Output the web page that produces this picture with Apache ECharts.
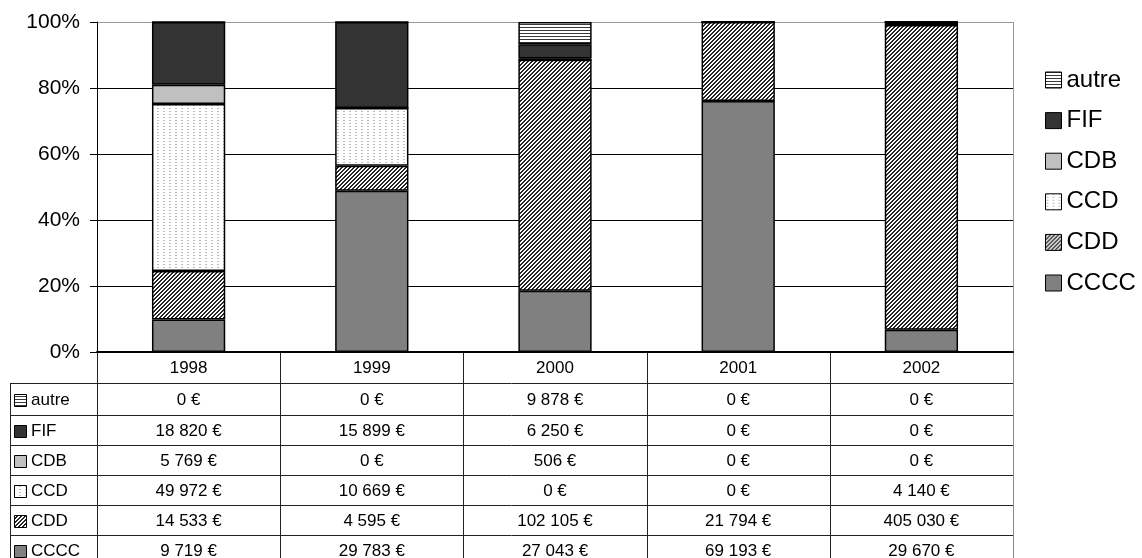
<!DOCTYPE html>
<html>
<head>
<meta charset="utf-8">
<script src="https://cdn.jsdelivr.net/npm/echarts@6/dist/echarts.min.js"></script>
<style>
  html, body { margin: 0; padding: 0; background: #fff; }
  #chart { width: 1142px; height: 558px; }
</style>
</head>
<body>
<div id="chart"></div>
<script>
// Years (categories) and amounts in euros per funding source
const years = ['1998', '1999', '2000', '2001', '2002'];
const cccc  = [9719, 29783, 27043, 69193, 29670];
const cdd   = [14533, 4595, 102105, 21794, 405030];
const ccd   = [49972, 10669, 0, 0, 4140];
const cdb   = [5769, 0, 506, 0, 0];
const fif   = [18820, 15899, 6250, 0, 0];
const autre = [0, 0, 9878, 0, 0];
const yTicks = [0, 20, 40, 60, 80, 100];

// Fill patterns drawn on small canvases
function makePattern(w, h, draw) {
  const c = document.createElement('canvas');
  c.width = w; c.height = h;
  const g = c.getContext('2d');
  g.fillStyle = '#ffffff';
  g.fillRect(0, 0, w, h);
  draw(g, w, h);
  return { image: c, repeat: 'repeat' };
}
const fills = {
  CCCC: '#808080',
  CDD: makePattern(4, 4, (g) => {
    g.fillStyle = '#262626';
    for (let x = 0; x < 4; x++) for (let y = 0; y < 4; y++) {
      if ((x + y) % 4 < 2) g.fillRect(x, y, 1, 1);
    }
  }),
  CCD: makePattern(6, 3, (g) => {
    g.fillStyle = '#bdbdbd';
    g.fillRect(1, 0, 2, 1);
  }),
  CDB: '#c0c0c0',
  FIF: '#333333',
  autre: makePattern(4, 3, (g) => {
    g.fillStyle = '#3a3a3a';
    g.fillRect(0, 0, 4, 1);
  })
};

// Stack order, bottom to top
const stack = [
  { name: 'CCCC', data: cccc },
  { name: 'CDD', data: cdd },
  { name: 'CCD', data: ccd },
  { name: 'CDB', data: cdb },
  { name: 'FIF', data: fif },
  { name: 'autre', data: autre }
];
// Table / legend order, top to bottom
const tableOrder = ['autre', 'FIF', 'CDB', 'CCD', 'CDD', 'CCCC'];

const totals = years.map((_, i) => stack.reduce((s, r) => s + r.data[i], 0));

function euro(v) {
  const s = String(v).replace(/\B(?=(\d{3})+(?!\d))/g, '\u00a0');
  return s + ' \u20ac';
}

const FONT = '"Liberation Sans", Arial, sans-serif';
const GRID = { left: 97, right: 129, top: 22, bottom: 206 };
const PLOT_RIGHT = 1142 - GRID.right;
const PLOT_BOTTOM = 558 - GRID.bottom;
const TABLE_LEFT = 10;
const rowLines = [383, 415, 445, 475, 505, 535, 565];

const chart = echarts.init(document.getElementById('chart'), null, { renderer: 'canvas' });

const option = {
  animation: false,
  backgroundColor: '#ffffff',
  textStyle: { fontFamily: FONT },
  grid: GRID,
  legend: {
    orient: 'vertical',
    left: 1040,
    top: 63,
    itemWidth: 16,
    itemHeight: 16,
    itemGap: 16.6,
    selectedMode: false,
    data: tableOrder.map((n) => ({ name: n, icon: 'rect' })),
    textStyle: { fontSize: 24, color: '#000', fontFamily: FONT, lineHeight: 24 },
    itemStyle: { borderColor: '#000', borderWidth: 1 }
  },
  xAxis: {
    type: 'category',
    data: years,
    axisLine: { lineStyle: { color: '#000', width: 2 } },
    axisTick: { show: false },
    axisLabel: { color: '#000', fontSize: 17, fontFamily: FONT, margin: 8 },
    splitLine: { show: false }
  },
  yAxis: {
    type: 'value',
    min: yTicks[0],
    max: yTicks[yTicks.length - 1],
    interval: yTicks[1] - yTicks[0],
    axisLine: { show: true, lineStyle: { color: '#000', width: 1 } },
    axisTick: { show: true, inside: false, length: 7, lineStyle: { color: '#000' } },
    axisLabel: { color: '#000', fontSize: 21, fontFamily: FONT, margin: 17, formatter: '{value}%' },
    splitLine: { show: true, lineStyle: { color: ['#000', '#000', '#000', '#000', '#000', '#9a9a9a'], width: 1 } }
  },
  series: stack.map((s) => ({
    type: 'bar',
    name: s.name,
    stack: 'total',
    barWidth: '40%',
    data: s.data.map((v, i) => (v / totals[i]) * 100),
    itemStyle: { color: fills[s.name], borderColor: '#000', borderWidth: 1.5 },
    emphasis: { disabled: true },
    silent: true
  }))
};

chart.setOption(option);

// Data table under the plot, aligned to the category axis
const colW = (PLOT_RIGHT - GRID.left) / years.length;
const g = [];
const lineStyle = { stroke: '#222', lineWidth: 1 };
// vertical column separators
for (let i = 0; i <= years.length; i++) {
  const x = Math.round(GRID.left + i * colW) + 0.5;
  g.push({ type: 'line', shape: { x1: x, y1: PLOT_BOTTOM, x2: x, y2: 558 }, style: i === years.length ? { stroke: '#8a8a8a', lineWidth: 1 } : lineStyle, silent: true });
}
// right border of the plot area
g.push({ type: 'line', shape: { x1: PLOT_RIGHT + 0.5, y1: GRID.top, x2: PLOT_RIGHT + 0.5, y2: PLOT_BOTTOM }, style: { stroke: '#9a9a9a', lineWidth: 1 }, silent: true });
// left border of the row labels
g.push({ type: 'line', shape: { x1: TABLE_LEFT + 0.5, y1: rowLines[0], x2: TABLE_LEFT + 0.5, y2: 558 }, style: lineStyle, silent: true });
// horizontal row lines
for (let r = 0; r < rowLines.length - 1; r++) {
  const y = rowLines[r] + 0.5;
  g.push({ type: 'line', shape: { x1: TABLE_LEFT, y1: y, x2: PLOT_RIGHT, y2: y }, style: lineStyle, silent: true });
}
// rows: key, name, values
tableOrder.forEach((name, r) => {
  const data = stack.find((s) => s.name === name).data;
  const yc = (rowLines[r] + rowLines[r + 1]) / 2 + 1;
  g.push({
    type: 'rect',
    shape: { x: 14.5, y: Math.round(yc - 6) + 0.5, width: 12, height: 12 },
    style: { fill: fills[name], stroke: '#000', lineWidth: 1 },
    silent: true
  });
  g.push({
    type: 'text', x: 31, y: yc,
    style: { text: name, fill: '#000', font: '17px ' + FONT, textAlign: 'left', textVerticalAlign: 'middle' },
    silent: true
  });
  years.forEach((yr, i) => {
    const xc = chart.convertToPixel({ xAxisIndex: 0 }, yr);
    g.push({
      type: 'text', x: xc, y: yc,
      style: { text: euro(data[i]), fill: '#000', font: '17px ' + FONT, textAlign: 'center', textVerticalAlign: 'middle' },
      silent: true
    });
  });
});

chart.setOption({ graphic: { elements: g } });
</script>
</body>
</html>
